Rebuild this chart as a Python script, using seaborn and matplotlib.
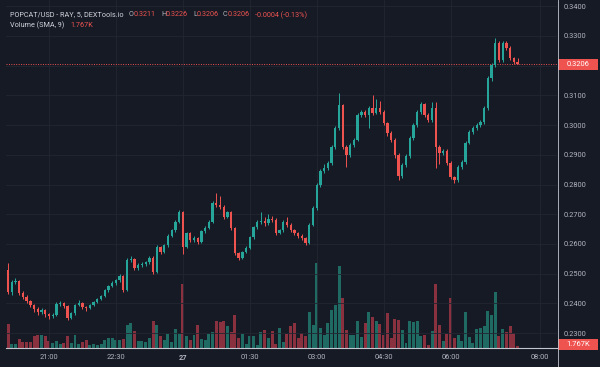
import matplotlib

matplotlib.use("Agg")
import matplotlib.pyplot as plt
import numpy as np
import pandas as pd
import seaborn as sns
from matplotlib.lines import Line2D
from matplotlib.patches import Rectangle

# 5-minute candles, POPCAT/USD
first_candle = "2024-05-26 20:05"

opens = [
    0.2512, 0.2438, 0.2472, 0.2475, 0.2435, 0.2421, 0.2408, 0.2394, 0.2381, 0.2371,
    0.2377, 0.2364, 0.2357, 0.2361, 0.2398, 0.2401, 0.2391, 0.2351, 0.2367, 0.2394,
    0.2401, 0.2388, 0.2384, 0.2394, 0.2404, 0.2414, 0.2425, 0.2445, 0.2458, 0.2468,
    0.2478, 0.2492, 0.2445, 0.2546, 0.2549, 0.2519, 0.2529, 0.2532, 0.2539, 0.2553,
    0.2505, 0.2590, 0.2573, 0.2596, 0.2627, 0.2647, 0.2674, 0.2707, 0.2590, 0.2637,
    0.2613, 0.2620, 0.2606, 0.2643, 0.2654, 0.2674, 0.2738, 0.2731, 0.2724, 0.2691,
    0.2707, 0.2654, 0.2569, 0.2553, 0.2573, 0.2586, 0.2623, 0.2657, 0.2674, 0.2677,
    0.2670, 0.2684, 0.2680, 0.2637, 0.2647, 0.2674, 0.2664, 0.2647, 0.2637, 0.2627,
    0.2620, 0.2603, 0.2664, 0.2721, 0.2798, 0.2845, 0.2856, 0.2872, 0.2926, 0.2990,
    0.3068, 0.2926, 0.2899, 0.2933, 0.2950, 0.3034, 0.3044, 0.3034, 0.3058, 0.3041,
    0.3058, 0.3044, 0.3007, 0.2973, 0.2950, 0.2899, 0.2829, 0.2866, 0.2896, 0.2957,
    0.3000, 0.3044, 0.3071, 0.3034, 0.3017, 0.3058, 0.2926, 0.2906, 0.2913, 0.2872,
    0.2825, 0.2815, 0.2859, 0.2876, 0.2940, 0.2977, 0.2990, 0.3000, 0.3010, 0.3058,
    0.3159, 0.3202, 0.3276, 0.3219, 0.3276, 0.3260, 0.3226, 0.3211,
]
highs = [
    0.2536, 0.2480, 0.2484, 0.2480, 0.2441, 0.2427, 0.2412, 0.2399, 0.2388, 0.2384,
    0.2381, 0.2369, 0.2368, 0.2404, 0.2408, 0.2406, 0.2395, 0.2372, 0.2399, 0.2410,
    0.2405, 0.2393, 0.2398, 0.2408, 0.2418, 0.2430, 0.2450, 0.2463, 0.2475, 0.2483,
    0.2498, 0.2496, 0.2552, 0.2560, 0.2553, 0.2535, 0.2538, 0.2544, 0.2558, 0.2558,
    0.2596, 0.2594, 0.2601, 0.2632, 0.2652, 0.2680, 0.2714, 0.2712, 0.2642, 0.2641,
    0.2628, 0.2625, 0.2648, 0.2660, 0.2680, 0.2745, 0.2771, 0.2760, 0.2730, 0.2712,
    0.2712, 0.2658, 0.2574, 0.2578, 0.2592, 0.2628, 0.2662, 0.2680, 0.2707, 0.2690,
    0.2700, 0.2694, 0.2686, 0.2652, 0.2680, 0.2690, 0.2670, 0.2652, 0.2642, 0.2632,
    0.2625, 0.2670, 0.2728, 0.2805, 0.2852, 0.2868, 0.2880, 0.2934, 0.2998, 0.3108,
    0.3072, 0.2932, 0.2940, 0.2956, 0.3040, 0.3052, 0.3050, 0.3065, 0.3101, 0.3088,
    0.3080, 0.3050, 0.3012, 0.2980, 0.2956, 0.2905, 0.2872, 0.2902, 0.2962, 0.3006,
    0.3050, 0.3078, 0.3075, 0.3040, 0.3078, 0.3078, 0.2932, 0.2920, 0.2918, 0.2878,
    0.2830, 0.2865, 0.2882, 0.2946, 0.2983, 0.2996, 0.3006, 0.3016, 0.3064, 0.3166,
    0.3210, 0.3293, 0.3282, 0.3284, 0.3282, 0.3265, 0.3230, 0.3226,
]
lows = [
    0.2432, 0.2430, 0.2465, 0.2428, 0.2414, 0.2400, 0.2388, 0.2372, 0.2362, 0.2365,
    0.2355, 0.2348, 0.2350, 0.2358, 0.2392, 0.2385, 0.2345, 0.2347, 0.2362, 0.2390,
    0.2380, 0.2376, 0.2380, 0.2390, 0.2400, 0.2410, 0.2421, 0.2440, 0.2454, 0.2462,
    0.2473, 0.2440, 0.2441, 0.2540, 0.2512, 0.2514, 0.2524, 0.2527, 0.2534, 0.2500,
    0.2502, 0.2566, 0.2570, 0.2591, 0.2622, 0.2642, 0.2670, 0.2565, 0.2585, 0.2606,
    0.2608, 0.2600, 0.2602, 0.2638, 0.2650, 0.2670, 0.2725, 0.2718, 0.2685, 0.2686,
    0.2648, 0.2562, 0.2545, 0.2549, 0.2568, 0.2582, 0.2618, 0.2652, 0.2668, 0.2662,
    0.2665, 0.2674, 0.2630, 0.2632, 0.2642, 0.2658, 0.2640, 0.2630, 0.2620, 0.2612,
    0.2598, 0.2600, 0.2660, 0.2716, 0.2792, 0.2838, 0.2850, 0.2866, 0.2920, 0.2985,
    0.2918, 0.2859, 0.2893, 0.2926, 0.2945, 0.3028, 0.3027, 0.2990, 0.3035, 0.3036,
    0.3038, 0.3000, 0.2965, 0.2942, 0.2890, 0.2815, 0.2822, 0.2860, 0.2890, 0.2950,
    0.2995, 0.3038, 0.3028, 0.3010, 0.3012, 0.2856, 0.2870, 0.2900, 0.2865, 0.2818,
    0.2805, 0.2810, 0.2852, 0.2870, 0.2935, 0.2970, 0.2985, 0.2995, 0.3005, 0.3052,
    0.3150, 0.3195, 0.3212, 0.3214, 0.3252, 0.3218, 0.3205, 0.3206,
]
closes = [
    0.2438, 0.2472, 0.2475, 0.2435, 0.2421, 0.2408, 0.2394, 0.2381, 0.2371, 0.2377,
    0.2364, 0.2357, 0.2361, 0.2398, 0.2401, 0.2391, 0.2351, 0.2367, 0.2394, 0.2401,
    0.2388, 0.2384, 0.2394, 0.2404, 0.2414, 0.2425, 0.2445, 0.2458, 0.2468, 0.2478,
    0.2492, 0.2445, 0.2546, 0.2549, 0.2519, 0.2529, 0.2532, 0.2539, 0.2553, 0.2505,
    0.2590, 0.2573, 0.2596, 0.2627, 0.2647, 0.2674, 0.2707, 0.2590, 0.2637, 0.2613,
    0.2620, 0.2606, 0.2643, 0.2654, 0.2674, 0.2738, 0.2731, 0.2724, 0.2691, 0.2707,
    0.2654, 0.2569, 0.2553, 0.2573, 0.2586, 0.2623, 0.2657, 0.2674, 0.2677, 0.2670,
    0.2684, 0.2680, 0.2637, 0.2647, 0.2674, 0.2664, 0.2647, 0.2637, 0.2627, 0.2620,
    0.2603, 0.2664, 0.2721, 0.2798, 0.2845, 0.2856, 0.2872, 0.2926, 0.2990, 0.3068,
    0.2926, 0.2899, 0.2933, 0.2950, 0.3034, 0.3044, 0.3034, 0.3058, 0.3041, 0.3058,
    0.3044, 0.3007, 0.2973, 0.2950, 0.2899, 0.2829, 0.2866, 0.2896, 0.2957, 0.3000,
    0.3044, 0.3071, 0.3034, 0.3017, 0.3058, 0.2926, 0.2906, 0.2913, 0.2872, 0.2825,
    0.2815, 0.2859, 0.2876, 0.2940, 0.2977, 0.2990, 0.3000, 0.3010, 0.3058, 0.3159,
    0.3202, 0.3276, 0.3219, 0.3276, 0.3260, 0.3226, 0.3211, 0.3206,
]
volumes = [
    1800, 300, 300, 675, 450, 450, 450, 900, 975, 975,
    900, 525, 375, 525, 300, 375, 900, 375, 975, 300,
    450, 600, 225, 300, 225, 300, 600, 750, 750, 600,
    600, 675, 1725, 1875, 1275, 525, 525, 450, 750, 2025,
    1725, 900, 600, 1050, 450, 1425, 1050, 4800, 900, 600,
    975, 1725, 675, 600, 1050, 1200, 2025, 1950, 2025, 1650,
    1200, 2475, 750, 1050, 300, 900, 900, 225, 1200, 1350,
    750, 1275, 300, 1500, 450, 1050, 1650, 1875, 750, 1125,
    900, 2700, 1725, 6375, 1500, 975, 1875, 2850, 3225, 6150,
    3750, 1350, 975, 975, 2025, 825, 1875, 2700, 2325, 2025,
    1800, 975, 2625, 750, 2175, 2100, 1350, 375, 2025, 1950,
    2025, 900, 975, 225, 1275, 4800, 1725, 525, 1050, 3750,
    750, 975, 525, 2700, 825, 375, 1425, 1500, 1650, 2775,
    2475, 4200, 900, 1425, 1200, 1650, 1125, 150,
]

tick_times = [
    "2024-05-26 21:00", "2024-05-26 22:30", "2024-05-27 00:00", "2024-05-27 01:30",
    "2024-05-27 03:00", "2024-05-27 04:30", "2024-05-27 06:00", "2024-05-27 08:00",
]
tick_labels = ["21:00", "22:30", "27", "01:30", "03:00", "04:30", "06:00", "08:00"]
price_ticks = [0.23, 0.24, 0.25, 0.26, 0.27, 0.28, 0.29, 0.30, 0.31, 0.32, 0.33, 0.34]

last_price = 0.3206
volume_sma_label = "1.767K"

BG = "#161a25"
GRID = "#222632"
TEXT = "#b2b5be"
LINE = "#c3c6ce"
UP = "#26a69a"
DOWN = "#ef5350"
VOL_UP = "#1f6b64"
VOL_DOWN = "#8a3140"

plt.rcParams["font.family"] = ["Roboto", "DejaVu Sans"]

times = pd.date_range(first_candle, periods=len(closes), freq="5min")
df = pd.DataFrame(
    {"time": times, "open": opens, "high": highs, "low": lows, "close": closes, "volume": volumes}
)
df["slot"] = np.arange(len(df))
df["direction"] = np.where(df["close"] >= df["open"], "up", "down")
tick_pos = [(pd.Timestamp(t) - times[0]) / pd.Timedelta("5min") for t in tick_times]

W, H = 600, 367
fig = plt.figure(figsize=(W / 100, H / 100), dpi=100, facecolor=BG)
rect = [6 / W, 19 / H, 551 / W, 348 / H]
xlim = (-0.55, 147.6)

# volume underneath, own scale
ax_vol = fig.add_axes(rect)
sns.barplot(
    data=df, x="slot", y="volume", hue="direction",
    palette={"up": VOL_UP, "down": VOL_DOWN},
    native_scale=True, dodge=False, width=0.8, errorbar=None,
    legend=False, saturation=1, linewidth=0, ax=ax_vol,
)
ax_vol.set_xlim(*xlim)
ax_vol.set_ylim(0, 26100)
ax_vol.axis("off")

# price candles on top
ax = fig.add_axes(rect)
ax.patch.set_alpha(0)
for direction, color in [("up", UP), ("down", DOWN)]:
    part = df[df["direction"] == direction]
    ax.vlines(part["slot"], part["low"], part["high"], color=color, lw=0.7, zorder=3)
    body = (part["close"] - part["open"]).abs().clip(lower=0.00015)
    ax.bar(part["slot"], body, bottom=part[["open", "close"]].min(axis=1),
           width=0.62, color=color, linewidth=0, zorder=4)

ax.axhline(last_price, color=DOWN, lw=0.7, ls=(0, (1, 1.5)), zorder=2)

ax.set_xlim(*xlim)
ax.set_ylim(0.2250, 0.3421)
ax.set_xticks(tick_pos)
ax.set_xticklabels(tick_labels)
ax.get_xticklabels()[2].set_fontweight("bold")
ax.set_yticks(price_ticks)
# the 0.3200 label sits under the last-price badge, as on the reference
ax.set_yticklabels(["" if abs(p - last_price) < 0.002 else f"{p:.4f}" for p in price_ticks])
ax.yaxis.tick_right()
ax.tick_params(axis="both", length=0, colors=TEXT, labelsize=5.4)
ax.tick_params(axis="y", pad=4.5)
ax.tick_params(axis="x", pad=4.2)
ax.grid(color=GRID, lw=0.6)
ax.set_axisbelow(True)
for side in ["top", "left", "right"]:
    ax.spines[side].set_visible(False)
ax.spines["bottom"].set_color(LINE)
ax.spines["bottom"].set_linewidth(0.8)
fig.add_artist(Line2D([557.5 / W, 557.5 / W], [0, 1], color=LINE, lw=0.6))

# price / volume badges on the scale
for y_px, label in [(64, f"{last_price:.4f}"), (344, volume_sma_label)]:
    fig.add_artist(Rectangle((558 / W, (H - y_px - 5.5) / H), 40 / W, 11 / H,
                             transform=fig.transFigure, fc=DOWN, ec="none"))
    fig.text(578 / W, 1 - y_px / H, label, color="white", fontsize=5.4,
             ha="center", va="center")

# legend line
header = [
    (10, "POPCAT/USD - RAY, 5, DEXTools.io", "#d1d4dc"),
    (129, "O", TEXT), (134, "0.3211", DOWN),
    (161, "H", TEXT), (166, "0.3226", DOWN),
    (193, "L", TEXT), (197, "0.3206", DOWN),
    (223, "C", TEXT), (228, "0.3206", DOWN),
    (255, "-0.0004 (-0.13%)", DOWN),
]
for x_px, text, color in header:
    fig.text(x_px / W, 1 - 15 / H, text, color=color, fontsize=5.2, va="center", ha="left")
fig.text(10 / W, 1 - 25.5 / H, "Volume (SMA, 9)", color="#d1d4dc", fontsize=5.2, va="center")
fig.text(70 / W, 1 - 25.5 / H, volume_sma_label, color=DOWN, fontsize=5.2, va="center")

fig.savefig("out.png", dpi=100, facecolor=BG)
plt.close(fig)
